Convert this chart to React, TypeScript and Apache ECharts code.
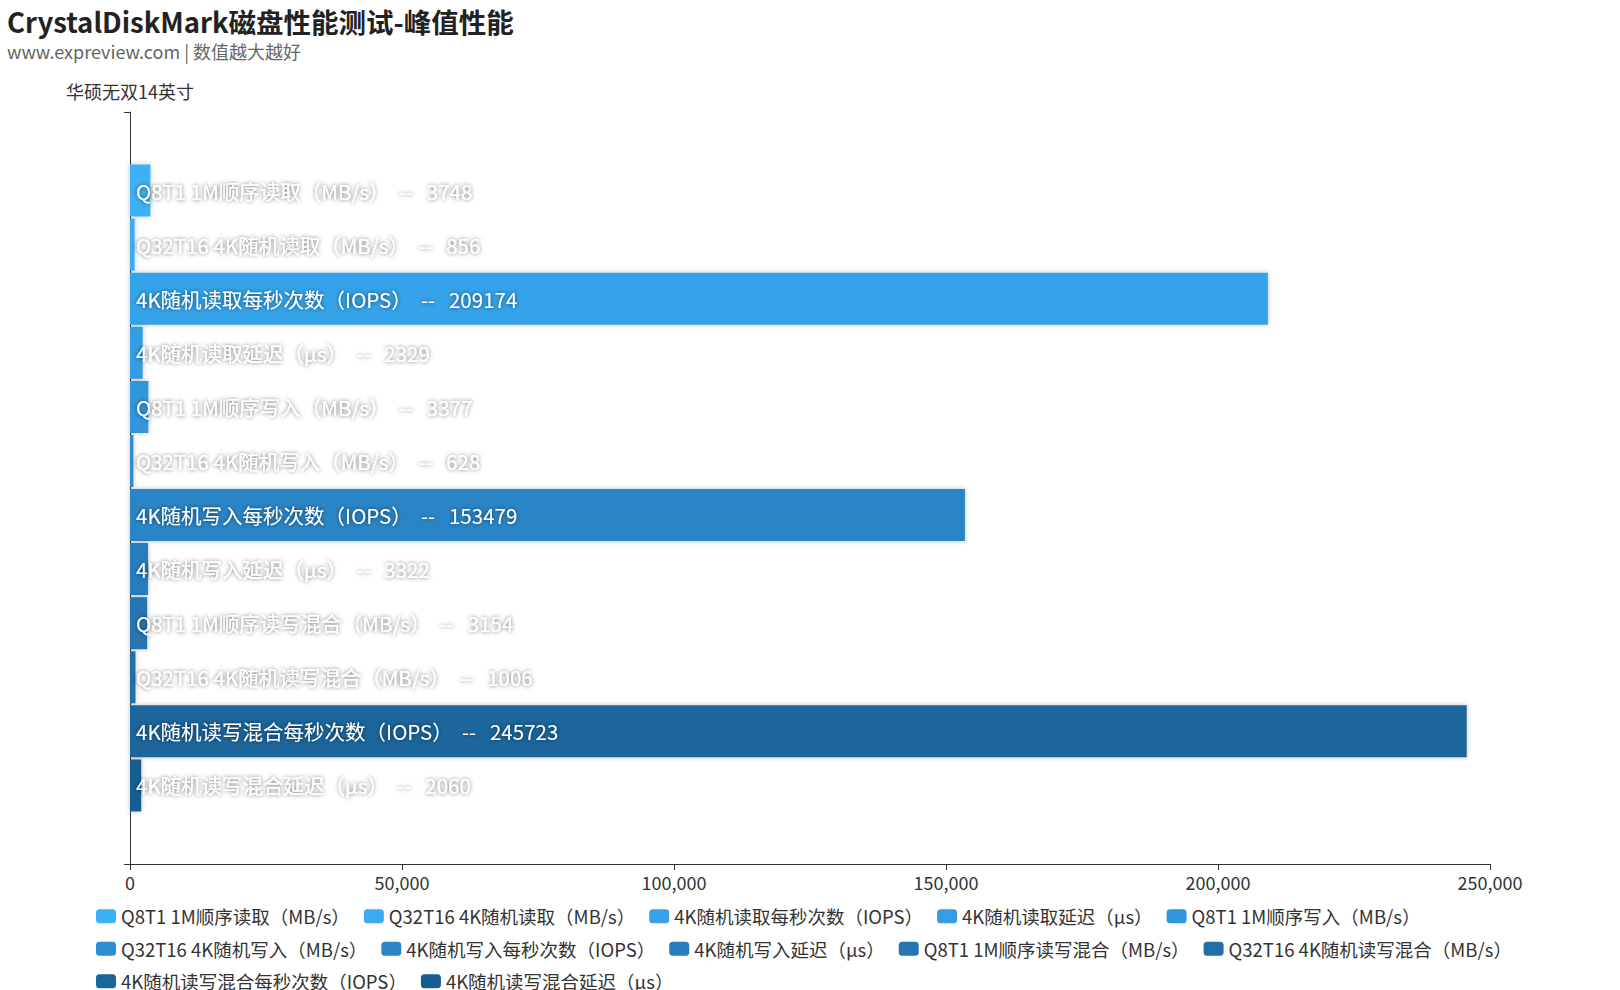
import React, { useEffect, useRef } from 'react';
import * as echarts from 'echarts';

// one category on the y axis, one series per test item
const categories = ['华硕无双14英寸'];

const seriesNames = [
    'Q8T1 1M顺序读取（MB/s）',
    'Q32T16 4K随机读取（MB/s）',
    '4K随机读取每秒次数（IOPS）',
    '4K随机读取延迟（μs）',
    'Q8T1 1M顺序写入（MB/s）',
    'Q32T16 4K随机写入（MB/s）',
    '4K随机写入每秒次数（IOPS）',
    '4K随机写入延迟（μs）',
    'Q8T1 1M顺序读写混合（MB/s）',
    'Q32T16 4K随机读写混合（MB/s）',
    '4K随机读写混合每秒次数（IOPS）',
    '4K随机读写混合延迟（μs）',
];

const seriesValues = [3748, 856, 209174, 2329, 3377, 628, 153479, 3322, 3154, 1006, 245723, 2060];

const colors = [
    '#3db1f6', '#3aabf0', '#36a3e9', '#349de3', '#3296dc', '#2e8dd2',
    '#2b85c7', '#287dbd', '#2575b2', '#226ea8', '#1a669c', '#175d91',
];

const FONT = '"Noto Sans CJK SC", "Noto Sans", sans-serif';

export default function App() {
    const chartRef = useRef<HTMLDivElement>(null);

    useEffect(() => {
        const myChart = echarts.init(chartRef.current, null, { renderer: 'svg' });

        myChart.setOption({
            animation: false,
            color: colors,
            textStyle: { fontFamily: FONT },
            title: {
                text: 'CrystalDiskMark磁盘性能测试-峰值性能',
                subtext: 'www.expreview.com | 数值越大越好',
                left: 2,
                top: 2,
                itemGap: 8,
                textStyle: { fontSize: 27.5, fontWeight: 'bold', color: '#222', fontFamily: FONT },
                subtextStyle: { fontSize: 18, color: '#666', fontFamily: FONT },
            },
            legend: {
                left: 91,
                right: 20,
                top: 902,
                itemWidth: 20,
                itemHeight: 14,
                itemGap: 14,
                icon: 'roundRect',
                textStyle: { fontSize: 18.5, color: '#333', padding: [0, 11, 0, 0], fontFamily: FONT },
            },
            grid: { left: 130, right: 130, top: 112, bottom: 126, containLabel: false },
            xAxis: {
                type: 'value',
                min: 0,
                max: 250000,
                interval: 50000,
                splitLine: { show: false },
                axisLine: { show: true, lineStyle: { color: '#333' } },
                axisTick: { show: true, length: 6, lineStyle: { color: '#333' } },
                axisLabel: { fontSize: 18, color: '#333', margin: 9 },
            },
            yAxis: {
                type: 'category',
                data: categories,
                name: categories[0],
                nameGap: 12,
                nameTextStyle: { fontSize: 18, color: '#333' },
                axisLine: { lineStyle: { color: '#333' } },
                axisTick: { show: true, length: 6 },
                axisLabel: { show: false },
            },
            series: seriesNames.map((name, i) => ({
                name,
                type: 'bar',
                barWidth: 52,
                barGap: '4%',
                data: [seriesValues[i]],
                itemStyle: { shadowBlur: 5, shadowColor: 'rgba(0,0,0,0.25)' },
                label: {
                    show: true,
                    position: 'insideLeft',
                    distance: 6,
                    formatter: '{a}  --   {c}',
                    fontSize: 20.5,
                    color: '#fff',
                    textShadowColor: 'rgba(0,0,0,0.6)',
                    textShadowBlur: 4,
                },
            })),
        });

        return () => {
            myChart.dispose();
        };
    }, []);

    return <div ref={chartRef} style={{ position: 'absolute', left: 0, top: 0, width: '1620px', height: '990px' }} />;
}
